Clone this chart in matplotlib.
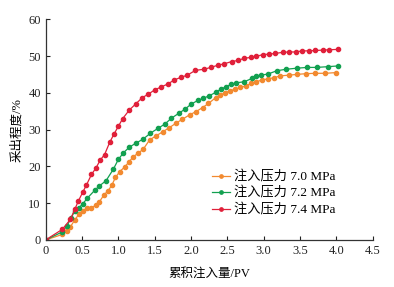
import matplotlib
matplotlib.use('Agg')
import matplotlib.pyplot as plt

plt.rcParams['font.family'] = ['Liberation Serif', 'Noto Sans CJK SC']

# 注入压力 7.0 MPa
x_70 = [0, 0.23, 0.29, 0.34, 0.40, 0.46, 0.51, 0.57, 0.63, 0.69, 0.74, 0.80, 0.86,
        0.91, 0.96, 1.02, 1.09, 1.15, 1.20, 1.27, 1.34, 1.43, 1.52, 1.61, 1.70,
        1.79, 1.88, 1.98, 2.07, 2.16, 2.24, 2.34, 2.40, 2.47, 2.53, 2.61, 2.68,
        2.75, 2.83, 2.90, 2.98, 3.06, 3.14, 3.23, 3.35, 3.46, 3.58, 3.71, 3.85, 4.00]
y_70 = [0, 1.5, 2.5, 3.6, 5.4, 7.1, 8.0, 8.6, 8.8, 9.4, 10.4, 12.2, 13.4,
        14.9, 17.0, 18.6, 19.9, 21.3, 22.5, 23.6, 24.6, 27.2, 28.3, 29.4, 30.5,
        31.7, 32.8, 34.0, 34.9, 36.0, 37.1, 38.7, 39.4, 40.0, 40.5, 41.0, 41.5,
        41.8, 42.6, 43.0, 43.5, 43.8, 44.1, 44.6, 44.8, 45.0, 45.2, 45.3, 45.3, 45.5]

# 注入压力 7.2 MPa
x_72 = [0, 0.23, 0.29, 0.35, 0.40, 0.46, 0.51, 0.57, 0.68, 0.74, 0.83, 0.93, 1.00,
        1.07, 1.15, 1.24, 1.34, 1.44, 1.55, 1.64, 1.73, 1.83, 1.92, 2.00, 2.10,
        2.17, 2.25, 2.34, 2.41, 2.48, 2.55, 2.62, 2.73, 2.84, 2.90, 2.96, 3.06,
        3.18, 3.31, 3.46, 3.60, 3.73, 3.88, 4.02]
y_72 = [0, 2.2, 3.8, 5.9, 8.0, 8.8, 9.8, 11.3, 13.6, 14.7, 16.1, 19.2, 21.9,
        23.7, 25.2, 26.3, 27.4, 29.0, 30.4, 31.5, 33.1, 34.4, 35.6, 36.9, 38.0,
        38.5, 39.2, 40.1, 41.0, 41.6, 42.3, 42.7, 43.0, 43.9, 44.6, 44.8, 45.1,
        46.0, 46.4, 46.7, 46.9, 46.9, 47.1, 47.3]

# 注入压力 7.4 MPa
x_74 = [0, 0.23, 0.34, 0.40, 0.45, 0.51, 0.56, 0.63, 0.69, 0.75, 0.81, 0.88, 0.94,
        1.00, 1.06, 1.15, 1.24, 1.33, 1.41, 1.50, 1.58, 1.68, 1.77, 1.86, 1.95,
        2.06, 2.18, 2.27, 2.37, 2.46, 2.56, 2.65, 2.73, 2.82, 2.90, 2.99, 3.07,
        3.16, 3.26, 3.35, 3.44, 3.53, 3.62, 3.71, 3.81, 3.90, 4.02]
y_74 = [0, 2.9, 5.6, 8.3, 10.6, 13.0, 14.9, 17.8, 19.5, 21.7, 23.2, 26.5, 28.8,
        30.9, 33.0, 35.3, 37.0, 38.7, 39.6, 40.8, 41.5, 42.4, 43.5, 44.2, 44.8,
        46.1, 46.4, 46.9, 47.5, 47.9, 48.5, 48.8, 49.4, 49.6, 49.9, 50.4, 50.5,
        50.7, 51.0, 51.1, 51.1, 51.4, 51.4, 51.5, 51.6, 51.7, 51.8]

labels = ['注入压力 7.0 MPa', '注入压力 7.2 MPa', '注入压力 7.4 MPa']
colors = ['#F28A30', '#12A050', '#E0203A']

fig = plt.figure(figsize=(3.94, 2.87), dpi=100)
ax = fig.add_axes([0.116, 0.164, 0.830, 0.769])

for xs, ys, lab, c in zip([x_70, x_72, x_74], [y_70, y_72, y_74], labels, colors):
    ax.plot(xs, ys, color=c, lw=0.9, marker='o', ms=3.0, mec=c, mfc=c, label=lab)

ax.set_xlim(0, 4.5)
ax.set_ylim(0, 60)
ax.set_xticks([0, 0.5, 1.0, 1.5, 2.0, 2.5, 3.0, 3.5, 4.0, 4.5])
ax.set_xticklabels(['0', '0.5', '1.0', '1.5', '2.0', '2.5', '3.0', '3.5', '4.0', '4.5'])
ax.set_yticks([0, 10, 20, 30, 40, 50, 60])
ax.tick_params(direction='in', length=3, width=0.8, labelsize=9, colors='#222222')
for s in ['top', 'right']:
    ax.spines[s].set_visible(False)
for s in ['left', 'bottom']:
    ax.spines[s].set_color('#333333')
    ax.spines[s].set_linewidth(0.9)

ax.set_xlabel('累积注入量/PV', fontsize=9, labelpad=8)
ax.set_ylabel('采出程度/%', fontsize=9, labelpad=4)

leg = ax.legend(loc='upper left', bbox_to_anchor=(205 / 394, 1 - 164 / 287),
                bbox_transform=fig.transFigure, frameon=False, fontsize=9.5,
                handlelength=1.4, handletextpad=0.3, borderpad=0, labelspacing=0.25,
                markerscale=0.8)

fig.savefig('out.png', dpi=100)
